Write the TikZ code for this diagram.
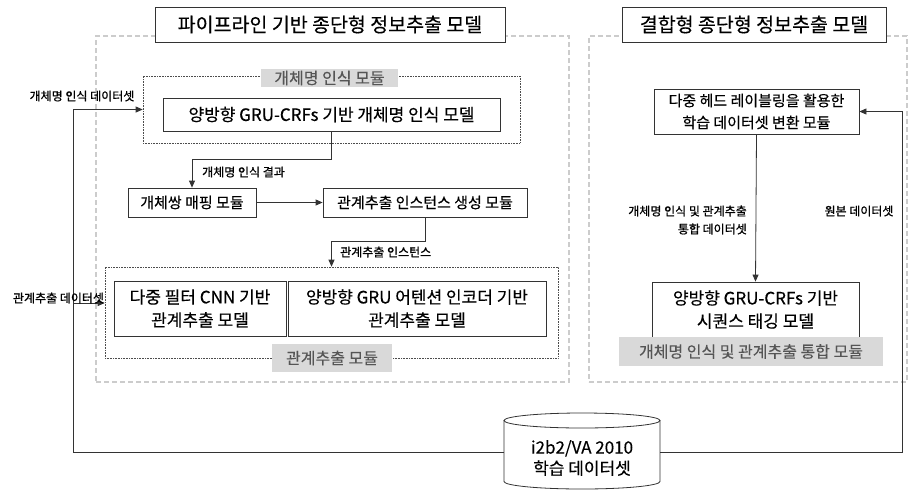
\documentclass[tikz,border=0pt]{standalone}
\usepackage{fontspec}
\setmainfont{Noto Sans CJK KR}[FakeBold=0.3]
\newfontfamily\lblfont{Noto Sans CJK KR}[FakeBold=0.9]
\usetikzlibrary{arrows.meta,calc}
\definecolor{lbl}{HTML}{D9D9D9}
\definecolor{lbltxt}{HTML}{555555}
\definecolor{ln}{HTML}{333333}
\definecolor{dash}{HTML}{CCCCCC}
\begin{document}
\begin{tikzpicture}[x=1pt,y=-1pt,
  box/.style={draw=ln, line width=0.8pt, fill=white, inner sep=0pt, align=center, text=black},
  titlebox/.style={box, font=\fontsize{19.5pt}{23pt}\selectfont},
  bigtxt/.style={font=\fontsize{17pt}{23pt}\selectfont},
  midtxt/.style={font=\fontsize{15pt}{22pt}\selectfont},
  outerbox/.style={draw=dash, line width=1.2pt, dash pattern=on 5pt off 3pt, inner sep=0pt},
  modbox/.style={draw=black!70, line width=0.6pt, densely dotted, inner sep=0pt},
  graylbl/.style={fill=lbl, text=lbltxt, inner sep=0pt, font=\fontsize{16pt}{20pt}\selectfont},
  small/.style={inner sep=0pt, font=\lblfont\fontsize{12pt}{18pt}\selectfont, text=black},
  arr/.style={draw=ln, line width=0.8pt, -{Triangle[length=7pt,width=6pt]}},
  ln/.style={draw=ln, line width=0.8pt}
]
\useasboundingbox (0,0) rectangle (910,491);

% outer dashed frames
\node[outerbox, minimum width=473pt, minimum height=346pt] (pipe) at (332.5,209) {};
\node[outerbox, minimum width=318pt, minimum height=346pt] (joint) at (748,209) {};

% titles
\node[titlebox, minimum width=350pt, minimum height=35pt] (t1) at (330,24.5) {파이프라인 기반 종단형 정보추출 모델};
\node[titlebox, minimum width=264pt, minimum height=35pt] (t2) at (754,24.5) {결합형 종단형 정보추출 모델};

% NER module
\node[modbox, minimum width=377pt, minimum height=67pt] (nermod) at (331.5,109.5) {};
\node[graylbl, minimum width=137pt, minimum height=18pt] (nerlbl) at (329.5,78) {개체명 인식 모듈};
\node[box, bigtxt, minimum width=337pt, minimum height=33pt] (ner) at (331.5,114.5) {양방향 GRU-CRFs 기반 개체명 인식 모델};

% mapping and instance
\node[box, midtxt, minimum width=128pt, minimum height=29pt] (map) at (192,202.5) {개체쌍 매핑 모듈};
\node[box, midtxt, minimum width=204pt, minimum height=29pt] (inst) at (425,202.5) {관계추출 인스턴스 생성 모듈};

% RE module
\node[modbox, minimum width=453pt, minimum height=91pt] (remod) at (331.5,312.5) {};
\node[box, bigtxt, minimum width=172pt, minimum height=55pt] (cnn) at (200,308.5) {다중 필터 CNN 기반\\관계추출 모델};
\node[box, bigtxt, minimum width=258pt, minimum height=55pt] (gru) at (417,308.5) {양방향 GRU 어텐션 인코더 기반\\관계추출 모델};
\node[graylbl, minimum width=120pt, minimum height=28pt] (relbl) at (332,358) {관계추출 모듈};

% joint model
\node[box, midtxt, minimum width=205pt, minimum height=45pt] (mh) at (756.5,111.5) {다중 헤드 레이블링을 활용한\\학습 데이터셋 변환 모듈};
\node[box, bigtxt, minimum width=207pt, minimum height=55pt] (seq) at (755.5,309.5) {양방향 GRU-CRFs 기반\\시퀀스 태깅 모델};
\node[graylbl, minimum width=264pt, minimum height=29pt] (seqlbl) at (751,351.5) {개체명 인식 및 관계추출 통합 모듈};

% database cylinder
\node[inner sep=0pt, minimum width=156pt, minimum height=76pt, align=center,
      font=\fontsize{17pt}{21pt}\selectfont] (db) at (582,458) {i2b2/VA 2010\\학습 데이터셋};
\draw[ln] (582,420.5) ellipse [x radius=78pt, y radius=7.5pt];
\draw[ln] (504,420.5) -- (504,481.5)
  .. controls (504,485.6) and (538.9,489) .. (582,489)
  .. controls (625.1,489) and (660,485.6) .. (660,481.5) -- (660,420.5);

% coordinates
\coordinate (lx) at (73,0);
\coordinate (rx) at (902,0);
\coordinate (reIn) at (73,303);
\coordinate (dbL) at (504,452);
\coordinate (dbR) at (660,452);

% connectors
\draw[arr] (ner.south) -- ++(0,28) -| (map.north);
\draw[arr] (map.east) -- (inst.west);
\draw[arr] (inst.south) -- ++(0,24) -| (remod.north);
\draw[arr] (dbL) -- (dbL -| lx) |- (nermod.west);
\draw[arr] (reIn) -- (reIn -| remod.west);
\draw[arr] (dbR) -- (dbR -| rx) |- (mh.east);
\draw[arr] (mh.south) -- (seq.north);

% labels
\node[small] (l1) at (82,96) {개체명 인식 데이터셋};
\node[small] (l2) at (58.5,298) {관계추출 데이터셋};
\node[small, anchor=west] (l3) at (202,172) {개체명 인식 결과};
\node[small, anchor=west] (l4) at (340,252) {관계추출 인스턴스};
\node[small, anchor=east, align=right] (l5) at (747,220) {개체명 인식 및 관계추출\\통합 데이터셋};
\node[small] (l6) at (859,211) {원본 데이터셋};
\end{tikzpicture}
\end{document}
